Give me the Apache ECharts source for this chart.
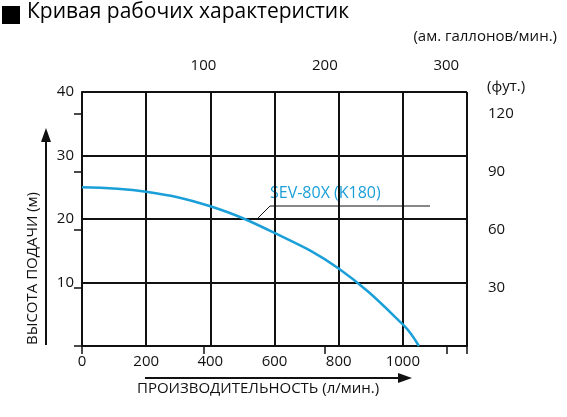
<!DOCTYPE html>
<html><head><meta charset="utf-8">
<script src="https://cdn.jsdelivr.net/npm/echarts@6/dist/echarts.min.js"></script>
<style>html,body{margin:0;background:#fff}#c{width:567px;height:417px}</style>
</head><body><div id="c"></div>
<script>
const flowLpm = [0, 200, 400, 600, 800, 1000, 1050];
const headM = [25, 24.3, 22, 17.8, 12.2, 3.4, 0];
const seriesName = 'SEV-80X (K180)';
const LPM_PER_GAL = 3.785;
const M_PER_FT = 0.3048;

const chart = echarts.init(document.getElementById('c'));
const font = '"Open Sans", "Noto Sans", sans-serif';
const black = '#111';

chart.setOption({
    animation: false,
    textStyle: { fontFamily: font },
    grid: { left: 82, right: 100, top: 92, bottom: 71, containLabel: false, outerBoundsMode: 'none' },
    xAxis: [
        {
            type: 'value', min: 0, max: 1200, interval: 200, position: 'bottom',
            axisLine: { lineStyle: { color: black, width: 2 } },
            axisTick: { show: false },
            axisLabel: { color: black, fontSize: 15, margin: 8, showMaxLabel: false, formatter: v => String(v) },
            splitLine: { lineStyle: { color: black, width: 2 } }
        },
        {
            type: 'value', min: 0, max: 1200 / LPM_PER_GAL, interval: 100, position: 'top', offset: 13,
            axisLine: { show: true, lineStyle: { color: black, width: 1.5 } },
            axisTick: { show: true, inside: true, length: 8, lineStyle: { color: black, width: 1.5 } },
            axisLabel: { color: black, fontSize: 15, margin: 6, formatter: v => v > 0 && v < 310 ? String(v) : '' },
            splitLine: { show: false }
        }
    ],
    yAxis: [
        {
            type: 'value', min: 0, max: 40, interval: 10,
            axisLine: { show: true, lineStyle: { color: black, width: 2 } },
            axisTick: { show: false },
            axisLabel: { color: black, fontSize: 15, margin: 8, formatter: v => v === 0 ? '' : String(v) },
            splitLine: { lineStyle: { color: black, width: 2 } }
        },
        {
            type: 'value', min: 0, max: 40 / M_PER_FT, interval: 30, position: 'right', offset: 15,
            axisLine: { show: true, lineStyle: { color: black, width: 1.5 } },
            axisTick: { show: true, inside: true, length: 8, lineStyle: { color: black, width: 1.5 } },
            axisLabel: { color: black, fontSize: 15, margin: 6, showMaxLabel: false, formatter: v => v === 0 || v > 125 ? '' : String(v) },
            splitLine: { show: false }
        }
    ],
    series: [{
        name: seriesName, type: 'line', smooth: 0.4, symbol: 'none',
        data: flowLpm.map((x, i) => [x, headM[i]]),
        lineStyle: { color: '#1a9fd8', width: 2.5 }
    }],
    graphic: [
        { type: 'rect', shape: { x: 2, y: 6, width: 18, height: 18 }, style: { fill: '#000' } },
        { type: 'text', left: 27, top: 2, style: { text: 'Кривая рабочих характеристик', fontSize: 21, fill: '#000', fontFamily: font } },
        { type: 'text', right: 10, top: 29, style: { text: '(ам. галлонов/мин.)', fontSize: 15, fill: black, fontFamily: font } },
        { type: 'text', left: 487, top: 79, style: { text: '(фут.)', fontSize: 15, fill: black, fontFamily: font } },
        { type: 'text', left: 270, top: 185, style: { text: seriesName, fontSize: 16, fill: '#1a9fd8', fontFamily: font } },
        { type: 'polyline', shape: { points: [[257, 219], [270, 206], [430, 206]] }, style: { stroke: black, lineWidth: 1, fill: null } },
        { type: 'text', x: 40, y: 345, rotation: Math.PI / 2, style: { text: 'ВЫСОТА ПОДАЧИ (м)', fontSize: 15, fill: black, fontFamily: font, align: 'left', verticalAlign: 'bottom' } },
        { type: 'line', shape: { x1: 46, y1: 345, x2: 46, y2: 140 }, style: { stroke: black, lineWidth: 2 } },
        { type: 'polygon', shape: { points: [[46, 128], [41, 142], [51, 142]] }, style: { fill: black } },
        { type: 'line', shape: { x1: 145, y1: 378, x2: 400, y2: 378 }, style: { stroke: black, lineWidth: 2 } },
        { type: 'polygon', shape: { points: [[412, 378], [398, 373], [398, 383]] }, style: { fill: black } },
        { type: 'text', left: 137, top: 381, style: { text: 'ПРОИЗВОДИТЕЛЬНОСТЬ (л/мин.)', fontSize: 15, fill: black, fontFamily: font } }
    ]
});
</script></body></html>
